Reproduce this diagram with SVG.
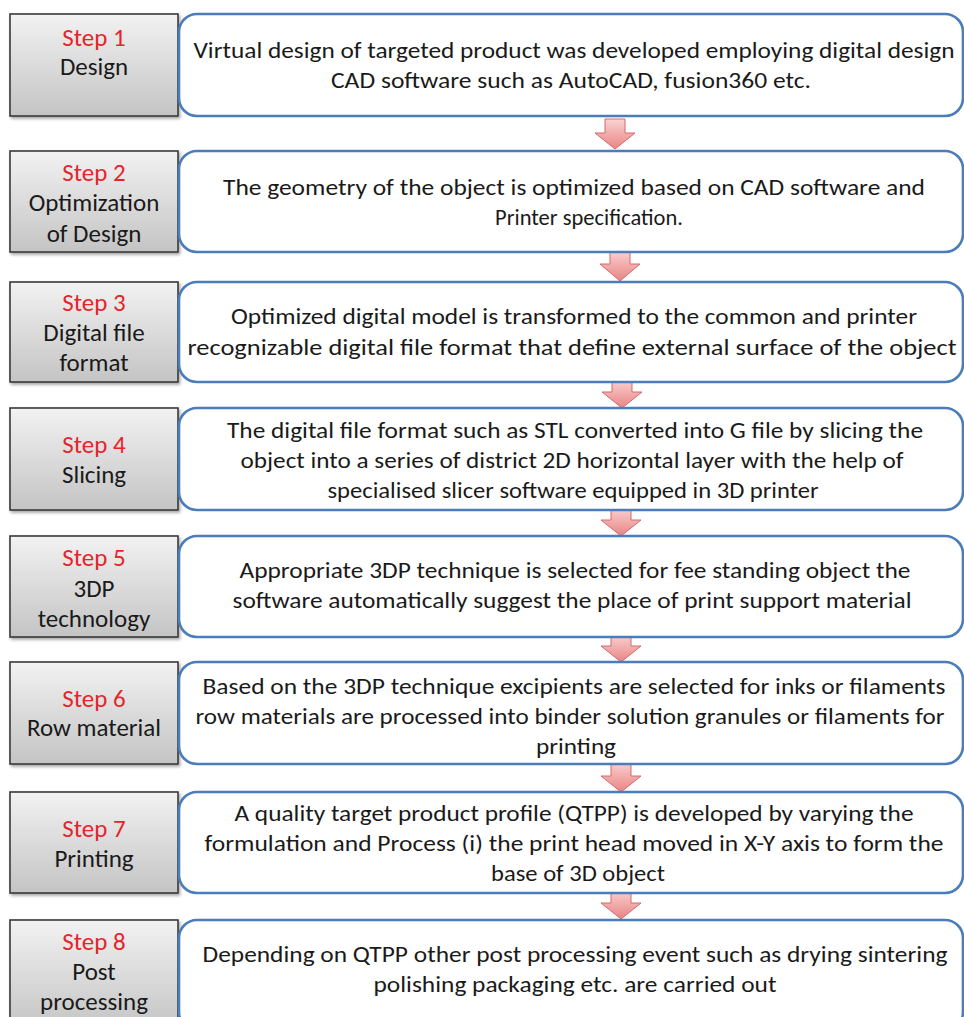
<svg xmlns="http://www.w3.org/2000/svg" width="964" height="1017" viewBox="0 0 964 1017">
<defs>
<linearGradient id="gray" x1="0" y1="0" x2="0" y2="1">
<stop offset="0" stop-color="#f2f2f2"/>
<stop offset="1" stop-color="#c4c4c4"/>
</linearGradient>
<linearGradient id="pink" x1="0" y1="0" x2="0" y2="1">
<stop offset="0" stop-color="#fbd3d3"/>
<stop offset="1" stop-color="#e98484"/>
</linearGradient>
<filter id="sh" x="-10%" y="-10%" width="130%" height="130%">
<feDropShadow dx="1.5" dy="2" stdDeviation="1.5" flood-color="#000" flood-opacity="0.35"/>
</filter>
<style>
.lb{fill:url(#gray);stroke:#3a3a3a;stroke-width:1.6;filter:url(#sh)}
.rb{fill:#fff;stroke:#4a7dba;stroke-width:2.6}
.ar{fill:url(#pink);stroke:#d26a6a;stroke-width:1}
text{font-family:Carlito,Lato,"Liberation Sans",sans-serif;font-size:23px;text-anchor:middle;fill:#1a1a1a}
.l{font-size:25px}
.st{fill:#e4262b;font-size:25px}
</style>
</defs>
<rect width="964" height="1017" fill="#fff"/>
<g id="connectors">
<path class="ar" d="M605,119 H625 V133 H635 L615,149 L595,133 H605 Z"/>
<path class="ar" d="M610,250 H630 V264 H640 L620,281 L600,264 H610 Z"/>
<path class="ar" d="M612,379 H632 V392 H642 L622,408 L602,392 H612 Z"/>
<path class="ar" d="M611,507 H631 V520 H641 L621,536 L601,520 H611 Z"/>
<path class="ar" d="M611,634 H631 V646 H641 L621,662 L601,646 H611 Z"/>
<path class="ar" d="M611,761 H631 V776 H641 L621,792 L601,776 H611 Z"/>
<path class="ar" d="M611,889 H631 V903 H641 L621,919 L601,903 H611 Z"/>
</g>
<g id="step1">
<rect class="lb" x="10" y="14" width="168" height="102"/>
<rect class="rb" x="179" y="14" width="784" height="102" rx="18"/>
<text class="st" x="94" y="46">Step 1</text>
<text class="l" x="94" y="75">Design</text>
<text x="574" y="58" textLength="761" lengthAdjust="spacingAndGlyphs">Virtual design of targeted product was developed employing digital design</text>
<text x="571" y="88" textLength="480" lengthAdjust="spacingAndGlyphs">CAD software such as AutoCAD, fusion360 etc.</text>
</g>
<g id="step2">
<rect class="lb" x="10" y="151" width="168" height="101"/>
<rect class="rb" x="179" y="151" width="784" height="101" rx="18"/>
<text class="st" x="94" y="181">Step 2</text>
<text class="l" x="94" y="211">Optimization</text>
<text class="l" x="94" y="242">of Design</text>
<text x="574" y="195" textLength="702" lengthAdjust="spacingAndGlyphs">The geometry of the object is optimized based on CAD software and</text>
<text x="589" y="225" textLength="188" lengthAdjust="spacingAndGlyphs">Printer specification.</text>
</g>
<g id="step3">
<rect class="lb" x="10" y="282" width="168" height="100"/>
<rect class="rb" x="179" y="282" width="784" height="100" rx="18"/>
<text class="st" x="94" y="311">Step 3</text>
<text class="l" x="94" y="341">Digital file</text>
<text class="l" x="94" y="371">format</text>
<text x="574" y="324" textLength="686" lengthAdjust="spacingAndGlyphs">Optimized digital model is transformed to the common and printer</text>
<text x="572" y="355" textLength="769" lengthAdjust="spacingAndGlyphs">recognizable digital file format that define external surface of the object</text>
</g>
<g id="step4">
<rect class="lb" x="10" y="408" width="168" height="102"/>
<rect class="rb" x="179" y="408" width="784" height="102" rx="18"/>
<text class="st" x="94" y="453">Step 4</text>
<text class="l" x="94" y="483">Slicing</text>
<text x="575" y="438" textLength="696" lengthAdjust="spacingAndGlyphs">The digital file format such as STL converted into G file by slicing the</text>
<text x="572" y="468" textLength="663" lengthAdjust="spacingAndGlyphs">object into a series of district 2D horizontal layer with the help of</text>
<text x="573" y="498" textLength="491" lengthAdjust="spacingAndGlyphs">specialised slicer software equipped in 3D printer</text>
</g>
<g id="step5">
<rect class="lb" x="10" y="536" width="168" height="101"/>
<rect class="rb" x="179" y="536" width="784" height="101" rx="18"/>
<text class="st" x="94" y="566">Step 5</text>
<text class="l" x="94" y="597">3DP</text>
<text class="l" x="94" y="627">technology</text>
<text x="575" y="578" textLength="671" lengthAdjust="spacingAndGlyphs">Appropriate 3DP technique is selected for fee standing object the</text>
<text x="572" y="608" textLength="679" lengthAdjust="spacingAndGlyphs">software automatically suggest the place of print support material</text>
</g>
<g id="step6">
<rect class="lb" x="10" y="662" width="168" height="102"/>
<rect class="rb" x="179" y="662" width="784" height="102" rx="18"/>
<text class="st" x="94" y="707">Step 6</text>
<text class="l" x="94" y="736">Row material</text>
<text x="574" y="694" textLength="743" lengthAdjust="spacingAndGlyphs">Based on the 3DP technique excipients are selected for inks or filaments</text>
<text x="570" y="724" textLength="749" lengthAdjust="spacingAndGlyphs">row materials are processed into binder solution granules or filaments for</text>
<text x="576" y="754" textLength="80" lengthAdjust="spacingAndGlyphs">printing</text>
</g>
<g id="step7">
<rect class="lb" x="10" y="792" width="168" height="101"/>
<rect class="rb" x="179" y="792" width="784" height="101" rx="18"/>
<text class="st" x="94" y="837">Step 7</text>
<text class="l" x="94" y="867">Printing</text>
<text x="574" y="821" textLength="679" lengthAdjust="spacingAndGlyphs">A quality target product profile (QTPP) is developed by varying the</text>
<text x="574" y="851" textLength="739" lengthAdjust="spacingAndGlyphs">formulation and Process (i) the print head moved in X-Y axis to form the</text>
<text x="578" y="881" textLength="174" lengthAdjust="spacingAndGlyphs">base of 3D object</text>
</g>
<g id="step8">
<rect class="lb" x="10" y="920" width="168" height="110"/>
<rect class="rb" x="179" y="920" width="784" height="110" rx="18"/>
<text class="st" x="94" y="950">Step 8</text>
<text class="l" x="94" y="980">Post</text>
<text class="l" x="94" y="1010">processing</text>
<text x="575" y="962" textLength="745" lengthAdjust="spacingAndGlyphs">Depending on QTPP other post processing event such as drying sintering</text>
<text x="575" y="992" textLength="403" lengthAdjust="spacingAndGlyphs">polishing packaging etc. are carried out</text>
</g>
</svg>
